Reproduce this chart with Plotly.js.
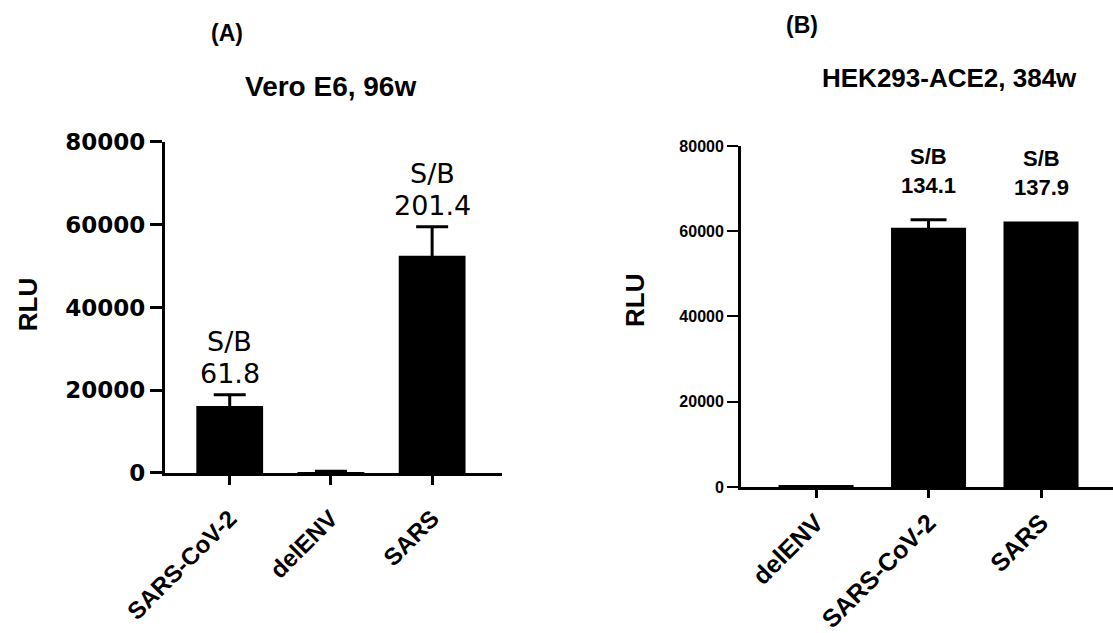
<!DOCTYPE html>
<html>
<head>
<meta charset="utf-8">
<script src="https://cdn.plot.ly/plotly-3.0.1.min.js"></script>
<style>html,body{margin:0;padding:0;background:#fff;}#chart{width:1113px;height:633px;}</style>
</head>
<body>
<div id="chart"></div>
<script>
// Panel A: Vero E6, 96w
const categoriesA = ['SARS-CoV-2', 'delENV', 'SARS'];
const valuesA = [16200, 262, 52500];
const errorsA = [2700, 150, 7000];
const sbA = ['61.8', null, '201.4'];

// Panel B: HEK293-ACE2, 384w (NaN = no error bar drawn)
const categoriesB = ['delENV', 'SARS-CoV-2', 'SARS'];
const valuesB = [453, 60800, 62300];
const errorsB = [NaN, 1900, NaN];
const sbB = [null, '134.1', '137.9'];

const yTicks = [0, 20000, 40000, 60000, 80000];

const ARIAL = 'Liberation Sans, Arial, sans-serif';
const DEJAVU = 'DejaVu Sans, sans-serif';

const traceA = {
  type: 'bar', x: categoriesA, y: valuesA, xaxis: 'x', yaxis: 'y',
  width: 0.66, marker: {color: '#000', line: {width: 0}},
  error_y: {type: 'data', array: errorsA, visible: true, color: '#000', thickness: 3, width: 16},
  hoverinfo: 'x+y', showlegend: false
};
const traceB = {
  type: 'bar', x: categoriesB, y: valuesB, xaxis: 'x2', yaxis: 'y2',
  width: 0.667, marker: {color: '#000', line: {width: 0}},
  error_y: {type: 'data', array: errorsB, visible: true, color: '#000', thickness: 3, width: 18},
  hoverinfo: 'x+y', showlegend: false
};

const annotations = [];
function addText(text, x, y, size, bold, family, extra) {
  annotations.push(Object.assign({
    text: bold ? '<b>' + text + '</b>' : text,
    x: x, y: y, xref: 'paper', yref: 'paper', showarrow: false,
    xanchor: 'center', yanchor: 'middle',
    font: {family: family, size: size, color: '#000'}
  }, extra || {}));
}
// panel labels and titles
addText('(A)', 0.204, 0.948, 23, true, ARIAL);
addText('Vero E6, 96w', 0.2965, 0.864, 28, true, ARIAL);
addText('(B)', 0.7205, 0.961, 23, true, ARIAL);
addText('HEK293-ACE2, 384w', 0.8527, 0.877, 26, true, ARIAL);
addText('RLU', 0.0252, 0.518, 26, true, ARIAL, {textangle: -90});
addText('RLU', 0.5705, 0.526, 26, true, ARIAL, {textangle: -90});

// S/B labels anchored to data
categoriesA.forEach((c, i) => {
  if (!sbA[i]) return;
  const top = valuesA[i] + (errorsA[i] || 0);
  const base = {x: c, y: top, xref: 'x', yref: 'y', showarrow: false, xanchor: 'center', yanchor: 'middle',
    font: {family: DEJAVU, size: 27, color: '#000'}};
  annotations.push(Object.assign({}, base, {text: sbA[i], yshift: 21}));
  annotations.push(Object.assign({}, base, {text: 'S/B', yshift: 53}));
});
categoriesB.forEach((c, i) => {
  if (!sbB[i]) return;
  const top = valuesB[i] + (errorsB[i] || 0);
  const base = {x: c, y: top, xref: 'x2', yref: 'y2', showarrow: false, xanchor: 'center', yanchor: 'middle',
    font: {family: ARIAL, size: 22, color: '#000'}};
  annotations.push(Object.assign({}, base, {text: '<b>' + sbB[i] + '</b>', yshift: 34}));
  annotations.push(Object.assign({}, base, {text: '<b>S/B</b>', yshift: 63}));
});

const layout = {
  width: 1113, height: 633,
  margin: {l: 0, r: 0, t: 0, b: 0},
  paper_bgcolor: '#fff', plot_bgcolor: '#fff',
  showlegend: false,
  xaxis: {
    domain: [0.1482, 0.4510], anchor: 'y', type: 'category',
    categoryorder: 'array', categoryarray: categoriesA,
    range: [-0.64, 2.69], showgrid: false, zeroline: false,
    showline: true, linecolor: '#000', linewidth: 3,
    ticks: 'outside', ticklen: 9, tickwidth: 3, tickcolor: '#000',
    ticklabelstandoff: 10,
    tickangle: -45, tickfont: {family: ARIAL, size: 24, color: '#000', weight: 'bold'}
  },
  yaxis: {
    domain: [0.2528, 0.7757], anchor: 'x',
    range: [0, 80000], tickvals: yTicks, ticktext: yTicks.map(String),
    showgrid: false, zeroline: false,
    showline: true, linecolor: '#000', linewidth: 3,
    ticks: 'outside', ticklen: 12, tickwidth: 3, tickcolor: '#000',
    tickfont: {family: DEJAVU, size: 23, color: '#000', weight: 'bold'}
  },
  xaxis2: {
    domain: [0.6658, 1.0], anchor: 'y2', type: 'category',
    categoryorder: 'array', categoryarray: categoriesB,
    range: [-0.667, 2.64], showgrid: false, zeroline: false,
    showline: true, linecolor: '#000', linewidth: 3,
    ticks: 'outside', ticklen: 8, tickwidth: 3, tickcolor: '#000',
    tickangle: -45, tickfont: {family: ARIAL, size: 25, color: '#000', weight: 'bold'}
  },
  yaxis2: {
    domain: [0.2306, 0.7694], anchor: 'x2',
    range: [0, 80000], tickvals: yTicks, ticktext: yTicks.map(String),
    showgrid: false, zeroline: false,
    showline: true, linecolor: '#000', linewidth: 3,
    ticks: 'outside', ticklen: 11, tickwidth: 2, tickcolor: '#000',
    tickfont: {family: ARIAL, size: 16, color: '#000', weight: 'bold'}
  },
  annotations: annotations
};

Plotly.newPlot('chart', [traceA, traceB], layout, {displayModeBar: false, staticPlot: true});
</script>
</body>
</html>
